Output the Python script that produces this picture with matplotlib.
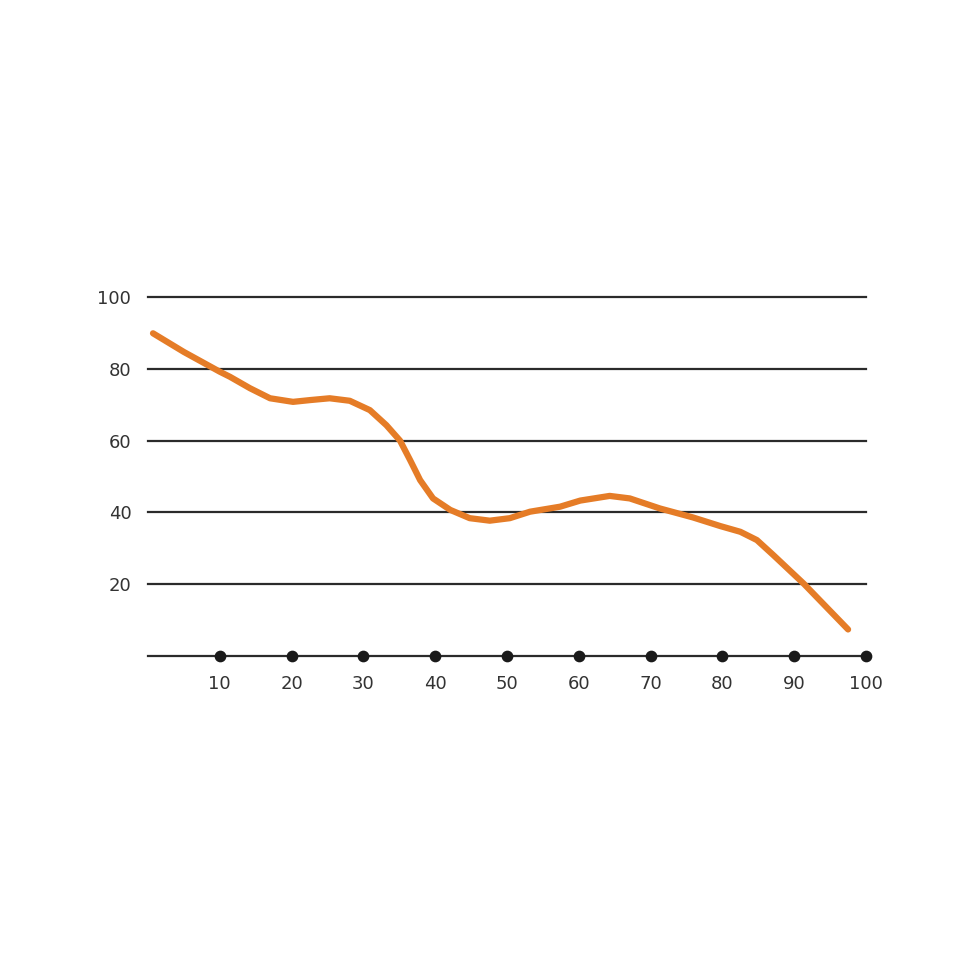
import matplotlib.pyplot as plt

# values
x_vals = [0.7, 5, 10, 11.4, 14.2, 17, 20.2, 22.6, 25.3, 28.1, 30.9, 33.2, 35.1,
          36.5, 37.9, 39.7, 42.1, 44.8, 47.6, 50.4, 53.2, 57.4, 60.2, 64.3, 67.1,
          71.3, 75.9, 79.7, 82.5, 84.8, 87.1, 91.3, 97.5]
y_vals = [89.9, 84.7, 79.2, 77.8, 74.6, 71.8, 70.8, 71.3, 71.8, 71.1, 68.5, 64.3, 60,
          54.6, 49, 43.9, 40.7, 38.4, 37.7, 38.4, 40.2, 41.6, 43.3, 44.6, 43.9,
          41.1, 38.6, 36.2, 34.6, 32.3, 28.1, 20.2, 7.4]
x_ticks = [10, 20, 30, 40, 50, 60, 70, 80, 90, 100]
y_ticks = [20, 40, 60, 80, 100]

fig = plt.figure(figsize=(9.8, 9.8), dpi=100)
ax = fig.add_axes([0.151, 0.3306, 0.7327, 0.3663])
ax.set_xlim(0, 100)
ax.set_ylim(0, 100)

grid_color = '#2b2b2b'
for y in [0] + y_ticks:
    ax.axhline(y, color=grid_color, lw=1.6, clip_on=False, zorder=1)

ax.plot(x_vals, y_vals, color='#E57C27', lw=4.5, solid_capstyle='round',
        solid_joinstyle='round', clip_on=False, zorder=3)
ax.scatter(x_ticks, [0] * len(x_ticks), s=55, color='#1a1a1a', clip_on=False, zorder=4)

for sp in ax.spines.values():
    sp.set_visible(False)
ax.set_xticks(x_ticks)
ax.set_yticks(y_ticks)
ax.tick_params(length=0, labelsize=13, labelcolor='#333333')
ax.tick_params(axis='x', pad=14)
ax.tick_params(axis='y', pad=12)

fig.savefig('out.png', dpi=100, facecolor='white')
